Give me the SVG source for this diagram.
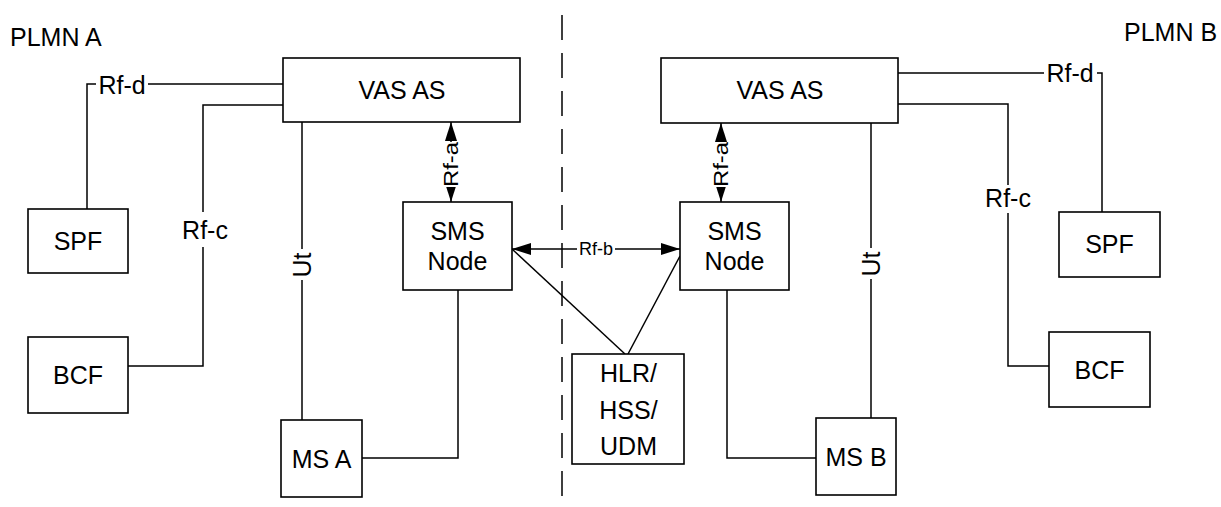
<svg xmlns="http://www.w3.org/2000/svg" width="1221" height="507" viewBox="0 0 1221 507">
<style>
.box{fill:#fff;stroke:#000;stroke-width:1.6}
.ln{fill:none;stroke:#000;stroke-width:1.5}
.t{font-family:"Liberation Sans",Arial,sans-serif;font-size:25px;fill:#000}
.c{text-anchor:middle}
.s{font-size:18px}
.r{font-size:20px}
.bg{fill:#fff;stroke:none}
</style>
<defs>
<marker id="ah" markerUnits="userSpaceOnUse" markerWidth="19" markerHeight="12" refX="19" refY="6" orient="auto-start-reverse" viewBox="0 0 19 12">
<path d="M0,0 L19,6 L0,12 z" fill="#000"/>
</marker>
</defs>
<rect width="1221" height="507" fill="#fff"/>
<text class="t" x="10" y="46">PLMN A</text>
<text class="t" x="1124" y="41">PLMN B</text>
<g id="connectors">
<line class="ln" x1="562" y1="15" x2="562" y2="497" stroke-dasharray="25 13"/>
<polyline class="ln" points="283,84 87,84 87,209"/>
<rect class="bg" x="96" y="74" width="52" height="22"/>
<text class="t c" x="122" y="94">Rf-d</text>
<polyline class="ln" points="283,105 203,105 203,366 128,366"/>
<rect class="bg" x="180" y="212" width="50" height="35"/>
<text class="t c" x="205" y="239">Rf-c</text>
<line class="ln" x1="302" y1="122" x2="302" y2="420"/>
<rect class="bg" x="290" y="249" width="22" height="31"/>
<text class="t c" x="302" y="274" transform="rotate(-90 302 265)">Ut</text>
<line class="ln" x1="451" y1="122" x2="451" y2="202" marker-start="url(#ah)" marker-end="url(#ah)"/>
<rect class="bg" x="443" y="142" width="16" height="45"/>
<text class="t c r" x="451" y="171.6" transform="rotate(-90 451 164.5)" textLength="45" lengthAdjust="spacingAndGlyphs">Rf-a</text>
<polyline class="ln" points="458,290 458,458 362,458"/>
<line class="ln" x1="512" y1="249" x2="680" y2="249" marker-start="url(#ah)" marker-end="url(#ah)"/>
<rect class="bg" x="577" y="240" width="38" height="17"/>
<text class="t c s" x="596" y="255" textLength="34" lengthAdjust="spacingAndGlyphs">Rf-b</text>
<line class="ln" x1="512" y1="249" x2="625" y2="354"/>
<line class="ln" x1="680" y1="256" x2="628" y2="354"/>
<line class="ln" x1="721" y1="123" x2="721" y2="202" marker-start="url(#ah)" marker-end="url(#ah)"/>
<rect class="bg" x="713" y="142" width="16" height="45"/>
<text class="t c r" x="721" y="171.6" transform="rotate(-90 721 164.5)" textLength="45" lengthAdjust="spacingAndGlyphs">Rf-a</text>
<polyline class="ln" points="727,290 727,458 816,458"/>
<line class="ln" x1="871" y1="123" x2="871" y2="418"/>
<rect class="bg" x="859" y="248" width="22" height="31"/>
<text class="t c" x="871" y="273" transform="rotate(-90 871 264)">Ut</text>
<polyline class="ln" points="898,104 1008,104 1008,366 1049,366"/>
<rect class="bg" x="982" y="185" width="52" height="28"/>
<text class="t c" x="1008" y="207">Rf-c</text>
<polyline class="ln" points="898,73 1102,73 1102,212"/>
<rect class="bg" x="1044" y="63" width="53" height="22"/>
<text class="t c" x="1070" y="82">Rf-d</text>
</g>
<g id="vas-a"><rect class="box" x="283" y="58" width="237" height="64"/><text class="t c" x="402" y="99">VAS AS</text></g>
<g id="vas-b"><rect class="box" x="661" y="58" width="237" height="65"/><text class="t c" x="780" y="99">VAS AS</text></g>
<g id="spf-a"><rect class="box" x="28" y="209" width="100" height="64"/><text class="t c" x="78" y="249.5">SPF</text></g>
<g id="bcf-a"><rect class="box" x="28" y="337" width="100" height="76"/><text class="t c" x="78" y="384">BCF</text></g>
<g id="sms-a"><rect class="box" x="403" y="202" width="109" height="88"/><text class="t c" x="457.5" y="240">SMS</text><text class="t c" x="457.5" y="270">Node</text></g>
<g id="ms-a"><rect class="box" x="281" y="420" width="81" height="77"/><text class="t c" x="321.5" y="467.5">MS A</text></g>
<g id="hlr"><rect class="box" x="572" y="354" width="112" height="110"/><text class="t c" x="628.5" y="382">HLR/</text><text class="t c" x="628.5" y="418.5">HSS/</text><text class="t c" x="628.5" y="455">UDM</text></g>
<g id="sms-b"><rect class="box" x="680" y="202" width="109" height="88"/><text class="t c" x="734.5" y="240">SMS</text><text class="t c" x="734.5" y="270">Node</text></g>
<g id="ms-b"><rect class="box" x="816" y="418" width="80" height="77"/><text class="t c" x="856" y="465.5">MS B</text></g>
<g id="spf-b"><rect class="box" x="1059" y="212" width="101" height="65"/><text class="t c" x="1109.5" y="253">SPF</text></g>
<g id="bcf-b"><rect class="box" x="1049" y="332" width="101" height="75"/><text class="t c" x="1099.5" y="378.5">BCF</text></g>
</svg>
